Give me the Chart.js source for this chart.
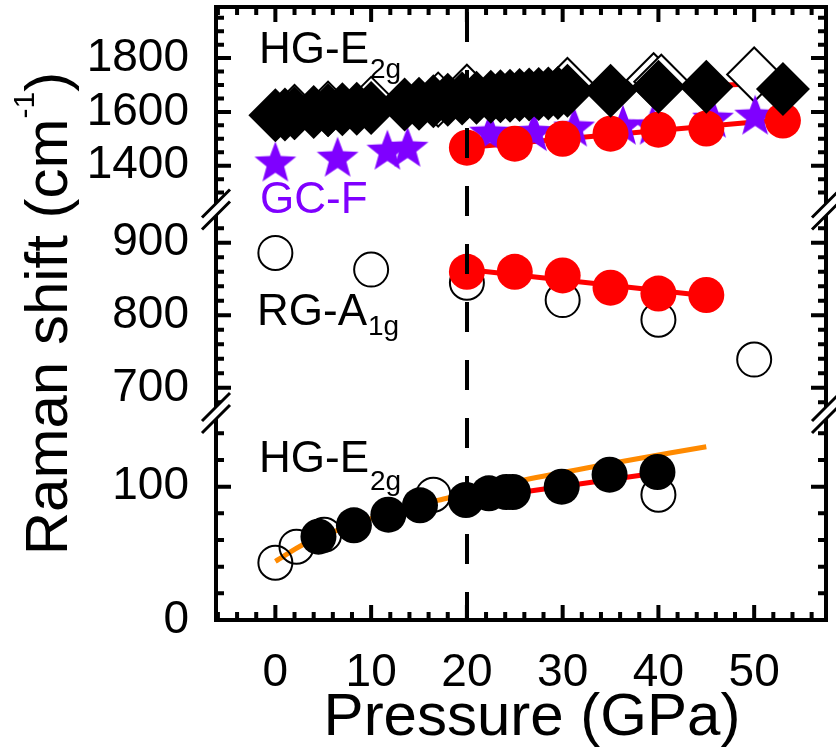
<!DOCTYPE html>
<html>
<head>
<meta charset="utf-8">
<script src="https://cdn.jsdelivr.net/npm/chart.js@4.4.1/dist/chart.umd.min.js"></script>
<style>
  html, body { margin: 0; background: #fff; }
  #wrap { width: 836px; height: 748px; }
</style>
</head>
<body>
<div id="wrap"><canvas id="raman" width="836" height="748"></canvas></div>
<script>
const FONT = "'Liberation Sans', Arial, Helvetica, sans-serif";

// HG-E2g high-frequency band (top panel)
const hgHighFilledP = [0, 1, 2, 4, 5.5, 7, 8.5, 10, 13.5, 15, 16.5, 18, 19.5, 21, 22.5, 23.5, 24.5, 25.5, 26.5, 27.5, 28.5, 29.5, 30.5, 35, 40, 45, 53];
const hgHighFilledV = [1588, 1590, 1596, 1600, 1606, 1610, 1612, 1615, 1628, 1630, 1640, 1645, 1650, 1653, 1656, 1658, 1660, 1663, 1665, 1667, 1668, 1670, 1679, 1679, 1694, 1694, 1685];
const hgHighOpenP = [2, 5.5, 10, 17, 20, 30.5, 39.5, 40.3, 50];
const hgHighOpenV = [1600, 1612, 1630, 1646, 1675, 1700, 1718, 1712, 1739];
const hgHighFitP1 = [0, 20];
const hgHighFitV1 = [1590, 1644];
const hgHighFitP2 = [20, 53];
const hgHighFitV2 = [1662, 1708];

// GC-F band (top panel)
const gcStarP = [0, 6.5, 11.7, 13.8, 22.4, 27, 31.2, 36.3, 39.4, 45.7, 50.1];
const gcStarV = [1412, 1430, 1456, 1467, 1523, 1525, 1542, 1549, 1549, 1575, 1586];
const gcRedP = [20, 25, 30, 35, 40, 45, 53];
const gcRedV = [1467, 1482, 1500, 1519, 1534, 1538, 1568];
const gcFitP = [20, 53];
const gcFitV = [1468, 1572];

// RG-A1g band (middle panel)
const rgOpenP = [0, 10, 20, 30, 40, 50];
const rgOpenV = [886, 863, 845, 821, 794, 739];
const rgRedP = [20, 25, 30, 35, 40, 45];
const rgRedV = [860, 860, 855, 838, 830, 828];
const rgFitP = [20, 45];
const rgFitV = [863, 827];

// HG-E2g low-frequency band (bottom panel)
const hgLowOpenP = [0, 2.2, 5.1, 16.5, 40];
const hgLowOpenV = [43, 55, 64, 94, 94];
const hgLowFilledP = [4.5, 8.2, 11.8, 15.1, 19.9, 22.3, 24.1, 24.8, 29.9, 34.9, 39.9];
const hgLowFilledV = [62.5, 71, 79, 86, 90, 95, 96, 96, 100, 109, 111];
const hgLowCurveP = [0, 3, 6, 10, 14, 18, 26, 34, 45];
const hgLowCurveV = [44, 57, 66, 76, 84.5, 91.5, 105, 116, 130];
const hgLowFitP = [20, 40];
const hgLowFitV = [90, 110.5];

// axis ticks
const xTicks = [0, 10, 20, 30, 40, 50];
const yTopTicks = [1400, 1600, 1800];
const yMidTicks = [700, 800, 900];
const yLowTicks = [0, 100];
const transitionP = 20;

const RED = '#ff0000';
const PURPLE = '#7f00ff';
const ORANGE = '#ff8a00';

const toXY = (xs, ys) => xs.map((x, i) => ({ x, y: ys[i] }));

function makeStar(r, color) {
  const c = document.createElement('canvas');
  const s = Math.ceil(r * 2 + 2);
  c.width = c.height = s;
  const g = c.getContext('2d');
  g.translate(s / 2, s / 2 + r * 0.05);
  g.beginPath();
  for (let i = 0; i < 10; i++) {
    const rad = i % 2 ? r * 0.42 : r;
    const a = -Math.PI / 2 + i * Math.PI / 5;
    g.lineTo(Math.cos(a) * rad, Math.sin(a) * rad);
  }
  g.closePath();
  g.fillStyle = color;
  g.fill();
  return c;
}

const fitLine = (p, v, axis, color, order, extra) => Object.assign({
  data: toXY(p, v), yAxisID: axis, showLine: true, pointRadius: 0,
  borderColor: color, borderWidth: 5, order
}, extra || {});

const markers = (p, v, axis, style, radius, fill, stroke, width, order) => ({
  data: toXY(p, v), yAxisID: axis, showLine: false, pointStyle: style,
  pointRadius: radius, backgroundColor: fill, borderColor: stroke,
  borderWidth: width, order
});

const datasets = [
  // top panel
  fitLine(hgHighFitP1, hgHighFitV1, 'yTop', RED, 30),
  fitLine(hgHighFitP2, hgHighFitV2, 'yTop', RED, 30),
  fitLine(gcFitP, gcFitV, 'yTop', RED, 30),
  markers(hgHighOpenP, hgHighOpenV, 'yTop', 'rectRot', 27, '#fff', '#000', 2, 25),
  markers(gcStarP, gcStarV, 'yTop', makeStar(22, PURPLE), 22, PURPLE, PURPLE, 0, 24),
  markers(gcRedP, gcRedV, 'yTop', 'circle', 18, RED, RED, 0, 22),
  markers(hgHighFilledP, hgHighFilledV, 'yTop', 'rectRot', 27, '#000', '#000', 0, 20),
  // middle panel
  markers(rgOpenP, rgOpenV, 'yMid', 'circle', 17, 'rgba(0,0,0,0)', '#000', 2, 18),
  fitLine(rgFitP, rgFitV, 'yMid', RED, 16),
  markers(rgRedP, rgRedV, 'yMid', 'circle', 18, RED, RED, 0, 15),
  // bottom panel
  fitLine(hgLowCurveP, hgLowCurveV, 'yLow', ORANGE, 13, { cubicInterpolationMode: 'monotone' }),
  markers(hgLowOpenP, hgLowOpenV, 'yLow', 'circle', 17, 'rgba(0,0,0,0)', '#000', 2, 12),
  fitLine(hgLowFitP, hgLowFitV, 'yLow', RED, 11),
  markers(hgLowFilledP, hgLowFilledV, 'yLow', 'circle', 18, '#000', '#000', 0, 10)
];

const minorStep = { x: 2, yTop: 50, yMid: 20, yLow: 20 };
const majorTicks = { x: xTicks, yTop: yTopTicks, yMid: yMidTicks, yLow: yLowTicks };

const fitLeft = s => { s.width = 216; s.paddingTop = 0; s.paddingBottom = 0; };
const setTicks = list => s => { s.ticks = list.map(value => ({ value })); };
const tickFont = { family: FONT, size: 46 };
const plainNumber = v => String(v);

const panelAxis = (min, max, ticks, stackWeight, weight) => ({
  type: 'linear', position: 'left', stack: 'panels', stackWeight, weight, min, max,
  afterBuildTicks: setTicks(ticks), afterFit: fitLeft,
  grid: { display: false }, border: { display: false },
  ticks: { font: tickFont, color: '#000', padding: 19, autoSkip: false, callback: plainNumber }
});

const gapAxis = (stackWeight, weight) => ({
  type: 'linear', position: 'left', stack: 'panels', stackWeight, weight, min: 0, max: 1,
  afterFit: fitLeft,
  grid: { display: false }, border: { display: false }, ticks: { display: false }
});

function labelWithSub(ctx, main, sub, x, y, subDy, color) {
  ctx.fillStyle = color;
  ctx.font = '44px ' + FONT;
  ctx.fillText(main, x, y);
  const w = ctx.measureText(main).width;
  if (sub) {
    ctx.font = '28px ' + FONT;
    ctx.fillText(sub, x + w + 1, y + subDy);
  }
}

function drawBreak(ctx, x, cy) {
  const h = 14, d = 6;
  ctx.fillStyle = '#fff';
  ctx.beginPath();
  ctx.moveTo(x - h, cy + h - d);
  ctx.lineTo(x + h, cy - h - d);
  ctx.lineTo(x + h, cy - h + d);
  ctx.lineTo(x - h, cy + h + d);
  ctx.closePath();
  ctx.fill();
  ctx.beginPath();
  [-d, d].forEach(o => {
    ctx.moveTo(x - h, cy + h + o);
    ctx.lineTo(x + h, cy - h + o);
  });
  ctx.lineWidth = 3;
  ctx.stroke();
}

const framePlugin = {
  id: 'frame',
  afterDatasetsDraw(chart) {
    const { ctx, chartArea: a, scales } = chart;
    const xs = scales.x;
    ctx.save();
    ctx.strokeStyle = '#000';
    ctx.lineCap = 'butt';

    // phase transition marker
    const xt = Math.round(xs.getPixelForValue(transitionP));
    ctx.lineWidth = 4;
    ctx.setLineDash([30, 28]);
    ctx.beginPath();
    ctx.moveTo(xt, a.top + 5);
    ctx.lineTo(xt, a.bottom);
    ctx.stroke();
    ctx.setLineDash([]);

    // frame
    ctx.lineWidth = 4;
    ctx.beginPath();
    ctx.moveTo(a.left, a.top); ctx.lineTo(a.right, a.top);
    ctx.lineTo(a.right, a.bottom); ctx.lineTo(a.left, a.bottom);
    ctx.closePath();
    ctx.stroke();

    // inward ticks
    ctx.beginPath();
    const stepX = minorStep.x;
    for (let v = Math.ceil(xs.min / stepX) * stepX; v <= xs.max; v += stepX) {
      const px = xs.getPixelForValue(v);
      const len = majorTicks.x.includes(v) ? 15 : 8;
      ctx.moveTo(px, a.bottom); ctx.lineTo(px, a.bottom - len);
      ctx.moveTo(px, a.top); ctx.lineTo(px, a.top + len);
    }
    ['yTop', 'yMid', 'yLow'].forEach(id => {
      const s = scales[id];
      const step = minorStep[id];
      for (let v = Math.ceil(s.min / step) * step; v <= s.max; v += step) {
        const py = s.getPixelForValue(v);
        const len = majorTicks[id].includes(v) ? 15 : 8;
        ctx.moveTo(a.left, py); ctx.lineTo(a.left + len, py);
        ctx.moveTo(a.right, py); ctx.lineTo(a.right - len, py);
      }
    });
    ctx.stroke();

    // axis breaks
    const breakA = (scales.yTop.bottom + scales.yMid.top) / 2;
    const breakB = (scales.yMid.bottom + scales.yLow.top) / 2;
    [breakA, breakB].forEach(cy => {
      drawBreak(ctx, a.left, cy);
      drawBreak(ctx, a.right, cy);
    });

    // band labels
    ctx.textBaseline = 'alphabetic';
    ctx.textAlign = 'left';
    labelWithSub(ctx, 'HG-E', '2g', 259, 63, 15, '#000');
    labelWithSub(ctx, 'GC-F', '', 260, 213, 0, PURPLE);
    labelWithSub(ctx, 'RG-A', '1g', 257, 325, 10, '#000');
    labelWithSub(ctx, 'HG-E', '2g', 259, 472, 18, '#000');

    // axis titles
    ctx.fillStyle = '#000';
    ctx.font = '60px ' + FONT;
    ctx.textAlign = 'center';
    ctx.fillText('Pressure (GPa)', 532, 735);

    ctx.save();
    ctx.translate(67, (a.top + a.bottom) / 2);
    ctx.rotate(-Math.PI / 2);
    ctx.textAlign = 'left';
    const big = '60px ' + FONT, small = '30px ' + FONT;
    ctx.font = big;
    const w1 = ctx.measureText('Raman shift (cm').width;
    const w3 = ctx.measureText(')').width;
    ctx.font = small;
    const w2 = ctx.measureText('-1').width;
    const x0 = -(w1 + w2 + w3) / 2;
    ctx.font = big;
    ctx.fillText('Raman shift (cm', x0, 0);
    ctx.font = small;
    ctx.fillText('-1', x0 + w1, -33);
    ctx.font = big;
    ctx.fillText(')', x0 + w1 + w2, 0);
    ctx.restore();

    ctx.restore();
  }
};

new Chart(document.getElementById('raman'), {
  type: 'scatter',
  data: { datasets },
  options: {
    responsive: false,
    animation: false,
    devicePixelRatio: 1,
    events: [],
    layout: { autoPadding: false, padding: { top: 7, right: 10, left: 0, bottom: 0 } },
    plugins: { legend: { display: false }, tooltip: { enabled: false } },
    scales: {
      x: {
        type: 'linear', position: 'bottom', min: -6.2, max: 57.5,
        afterBuildTicks: setTicks(xTicks),
        afterFit: s => { s.height = 128; s.paddingLeft = 0; s.paddingRight = 0; },
        grid: { display: false }, border: { display: false },
        ticks: { font: tickFont, color: '#000', padding: 18, autoSkip: false, maxRotation: 0, callback: plainNumber }
      },
      yTop: panelAxis(1280, 1990, yTopTicks, 191, 5),
      gapA: gapAxis(23, 4),
      yMid: panelAxis(675, 930, yMidTicks, 185, 3),
      gapB: gapAxis(14, 2),
      yLow: panelAxis(0, 150, yLowTicks, 200, 1)
    }
  },
  plugins: [framePlugin]
});
</script>
</body>
</html>
